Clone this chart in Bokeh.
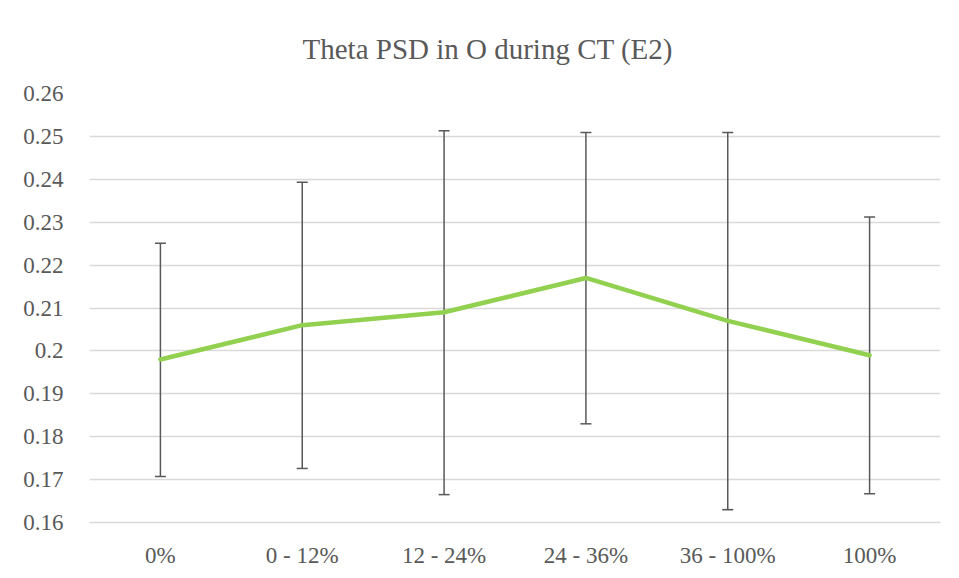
from bokeh.plotting import figure
from bokeh.models import Whisker, ColumnDataSource, FixedTicker, NumeralTickFormatter, Range1d
from bokeh.embed import file_html
from bokeh.resources import INLINE

categories = ["0%", "0 - 12%", "12 - 24%", "24 - 36%", "36 - 100%", "100%"]
means = [0.198, 0.206, 0.209, 0.217, 0.207, 0.199]
upper = [0.2251, 0.2393, 0.2513, 0.2509, 0.2509, 0.2312]
lower = [0.1707, 0.1726, 0.1665, 0.1830, 0.1630, 0.1667]
y_ticks = [0.16, 0.17, 0.18, 0.19, 0.20, 0.21, 0.22, 0.23, 0.24, 0.25, 0.26]

FONT = "Liberation Serif"
TEXT = "#595959"
GRID = "#d9d9d9"

src = ColumnDataSource(dict(x=categories, y=means, upper=upper, lower=lower))

p = figure(x_range=categories, y_range=Range1d(0.16, 0.26),
           width=951, height=570, output_backend="svg", toolbar_location=None,
           title="Theta PSD in O during CT (E2)",
           min_border_left=89, min_border_right=11, min_border_top=93, min_border_bottom=46)

p.title.text_font = FONT
p.title.text_font_size = "29px"
p.title.text_font_style = "normal"
p.title.text_color = TEXT
p.title.align = "left"
p.title.offset = 213
p.title.standoff = 58

p.outline_line_color = None
p.xgrid.grid_line_color = None
p.ygrid.grid_line_color = GRID
p.ygrid.grid_line_width = 1.3

p.yaxis.ticker = FixedTicker(ticks=y_ticks)
p.yaxis.formatter = NumeralTickFormatter(format="0.0[0]")
for ax in (p.xaxis, p.yaxis):
    ax.axis_line_color = None
    ax.major_tick_line_color = None
    ax.minor_tick_line_color = None
    ax.major_label_text_font = FONT
    ax.major_label_text_font_size = "23px"
    ax.major_label_text_color = TEXT
p.xaxis.axis_line_color = GRID
p.xaxis.axis_line_width = 1.3
p.yaxis.major_label_standoff = 20
p.xaxis.major_label_standoff = 14

p.line("x", "y", source=src, line_color="#92D050", line_width=4.5,
       line_join="round", line_cap="round")

w = Whisker(base="x", upper="upper", lower="lower", source=src,
            line_color="#595959", line_width=1.5)
w.upper_head.size = 11
w.lower_head.size = 11
w.upper_head.line_color = "#595959"
w.lower_head.line_color = "#595959"
w.upper_head.line_width = 1.5
w.lower_head.line_width = 1.5
p.add_layout(w)

open("out.html", "w").write(file_html(p, INLINE))
